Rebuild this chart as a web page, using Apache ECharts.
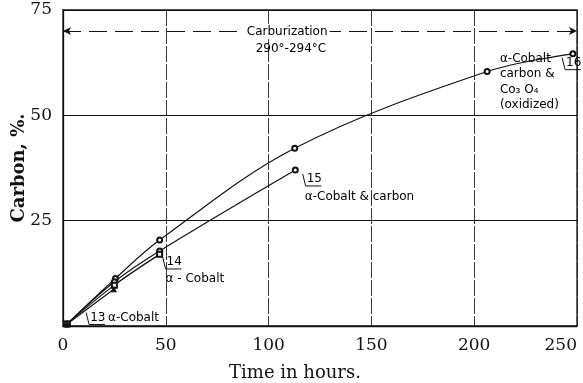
<!DOCTYPE html>
<html>
<head>
<meta charset="utf-8">
<script src="https://cdn.jsdelivr.net/npm/echarts@6/dist/echarts.min.js"></script>
<style>
  html, body { margin: 0; padding: 0; background: #fff; }
  #main { width: 583px; height: 383px; }
</style>
</head>
<body>
<div id="main"></div>
<script>
// data: [hours, carbon %]
var run16 = [[2, 0.5], [25.5, 11.3], [47, 20.4], [112.7, 42.2], [206.3, 60.4], [248, 64.6]];
var run15 = [[2, 0.5], [25, 10.5], [47, 17.8], [113, 37.0]];
var run14 = [[2, 0.5], [25, 9.7], [47, 17.0]];
var run13 = [[2, 0.5], [24.7, 8.7]];
var carburLevel = 70;
var xTicks = [0, 50, 100, 150, 200, 250];
var yTicks = [25, 50, 75];

// annotation texts, anchored in data coordinates
var notes = [
  { at: [244.7, 62.5], text: '16', tag: true },
  { at: [212.5, 58.0], text: 'α-Cobalt\ncarbon &\nCo₃ O₄\n(oxidized)' },
  { at: [118.5, 34.9], text: '15', tag: true },
  { at: [117.6, 30.7], text: 'α-Cobalt & carbon' },
  { at: [50.4, 15.2], text: '14', tag: true },
  { at: [49.9, 11.1], text: 'α - Cobalt' },
  { at: [13.2, 2.0], text: '13', tag: true },
  { at: [21.9, 2.0], text: 'α-Cobalt' },
  { at: [88.4, 69.9], text: 'Carburization', box: true },
  { at: [93.7, 65.8], text: '290°-294°C' }
];

var chart = echarts.init(document.getElementById('main'));
var serif = 'DejaVu Serif';
var sans = 'DejaVu Sans';

function curve(name, data, symbol) {
  return {
    name: name,
    type: 'line',
    data: data,
    smooth: 0.35,
    symbol: symbol,
    symbolSize: 5,
    lineStyle: { color: '#111', width: 1.2 },
    itemStyle: { color: '#111', borderColor: '#111', borderWidth: 1 },
    z: 5
  };
}

var option = {
  backgroundColor: '#fff',
  animation: false,
  grid: {
    left: 63, right: 6, top: 10, bottom: 57,
    outerBoundsMode: 'none',
    show: true, borderColor: '#111', borderWidth: 1.3
  },
  xAxis: {
    type: 'value', min: 0, max: 250, interval: 50,
    name: 'Time in hours.', nameLocation: 'middle', nameGap: 38,
    nameTextStyle: { fontFamily: serif, fontSize: 18, color: '#111', padding: [0, 50, 0, 0] },
    axisLine: { lineStyle: { color: '#111', width: 1.3 } },
    axisTick: { show: false },
    axisLabel: { fontFamily: serif, fontSize: 17, color: '#111', margin: 11, alignMaxLabel: 'right',
      formatter: function (v) { return xTicks.indexOf(v) >= 0 ? String(v) : ''; } },
    splitLine: { show: true, lineStyle: { color: '#222', width: 0.9, type: [16, 2] } }
  },
  yAxis: {
    type: 'value', min: 0, max: 75, interval: 25,
    name: 'Carbon, %.', nameLocation: 'middle', nameGap: 35, nameMoveOverlap: false,
    nameTextStyle: { fontFamily: serif, fontSize: 18, fontWeight: 'bold', color: '#111' },
    axisLine: { lineStyle: { color: '#111', width: 1.3 } },
    axisTick: { show: false },
    axisLabel: { fontFamily: serif, fontSize: 17, color: '#111', margin: 11, padding: [6, 0, 0, 0],
      formatter: function (v) { return yTicks.indexOf(v) >= 0 ? String(v) : ''; } },
    splitLine: { show: true, lineStyle: { color: '#111', width: 1.1 } }
  },
  series: [
    curve('16', run16, 'emptyCircle'),
    curve('15', run15, 'emptyCircle'),
    curve('14', run14, 'emptyRect'),
    curve('13', run13, 'triangle'),
    {
      type: 'line', data: [], silent: true,
      markLine: {
        silent: true,
        symbol: ['arrow', 'arrow'], symbolSize: [6, 8],
        label: { show: false },
        lineStyle: { color: '#111', width: 1.2, type: [18, 8] },
        data: [[{ coord: [0, carburLevel] }, { coord: [250, carburLevel] }]]
      }
    }
  ]
};
chart.setOption(option);

// place annotations using the chart's own scale
var els = [];
notes.forEach(function (n) {
  var p = chart.convertToPixel({ gridIndex: 0 }, n.at);
  els.push({
    type: 'text', x: p[0], y: p[1], z: 20,
    style: {
      text: n.text, fill: '#000', font: '12px ' + sans,
      lineHeight: 15.5, verticalAlign: 'middle', align: 'left',
      backgroundColor: n.box ? '#fff' : null, padding: n.box ? [0, 2] : 0
    }
  });
  if (n.tag) {
    // underline with a small slanted leader
    var w = n.text.length * 7.4;
    els.push({ type: 'line', z: 20, shape: { x1: p[0] - 1, y1: p[1] + 7, x2: p[0] + w, y2: p[1] + 7 },
      style: { stroke: '#111', lineWidth: 1 } });
    els.push({ type: 'line', z: 20, shape: { x1: p[0] - 4, y1: p[1] - 5, x2: p[0] - 1, y2: p[1] + 7 },
      style: { stroke: '#111', lineWidth: 1 } });
  }
});
chart.setOption({ graphic: els });
</script>
</body>
</html>
